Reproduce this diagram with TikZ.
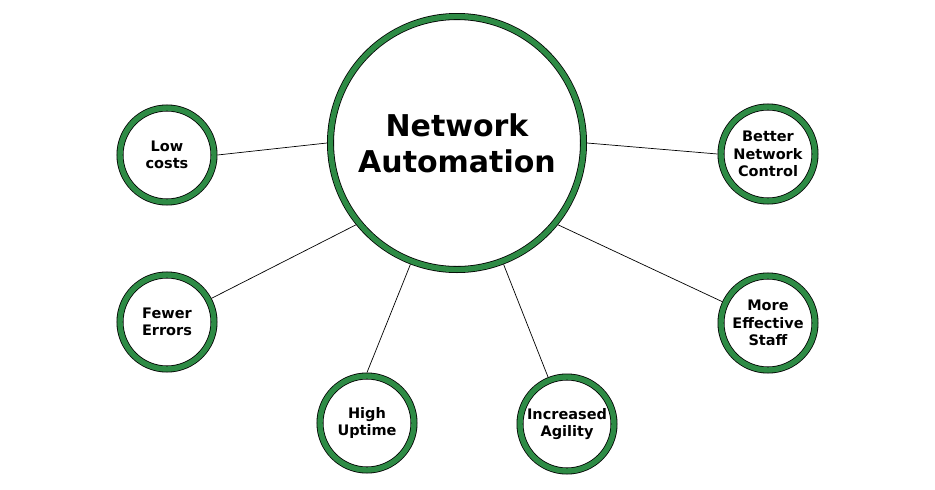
\documentclass[tikz,border=0pt]{standalone}
\usepackage{fontspec}
\setmainfont{DejaVu Sans}
\definecolor{ringgreen}{RGB}{46,139,69}
\begin{document}
\begin{tikzpicture}[x=1pt,y=-1pt,
  ring/.style={circle, draw=black, line width=0.8pt, double=ringgreen, double distance=5.4pt, fill=white, inner sep=0pt, outer sep=3.5pt},
  hub/.style={ring, minimum size=253pt, align=center, font=\bfseries\fontsize{30}{36}\selectfont},
  leaf/.style={ring, minimum size=94pt, align=center, font=\bfseries\fontsize{14.5}{17.5}\selectfont},
  link/.style={draw=black, line width=0.7pt}]
\useasboundingbox (0,0) rectangle (935,490);

% Central topic
\node[hub] (auto) at (457,143) {Network\\Automation};

% Benefits around it
\node[leaf] (low) at (167,155) {Low\\costs};
\node[leaf] (ctrl) at (768,154) {Better\\Network\\Control};
\node[leaf] (err) at (167,322) {Fewer\\Errors};
\node[leaf] (staff) at (768,323) {More\\Effective\\Staff};
\node[leaf] (up) at (367,423) {High\\Uptime};
\node[leaf] (agil) at (567,424) {Increased\\Agility};

% Connectors
\draw[link] (auto.180) -- (low.0);
\draw[link] (auto.0) -- (ctrl.180);
\draw[link] (auto.219) -- (err.28);
\draw[link] (auto.321) -- (staff.155);
\draw[link] (auto.249) -- (up.90);
\draw[link] (auto.291) -- (agil.112);
\end{tikzpicture}
\end{document}
